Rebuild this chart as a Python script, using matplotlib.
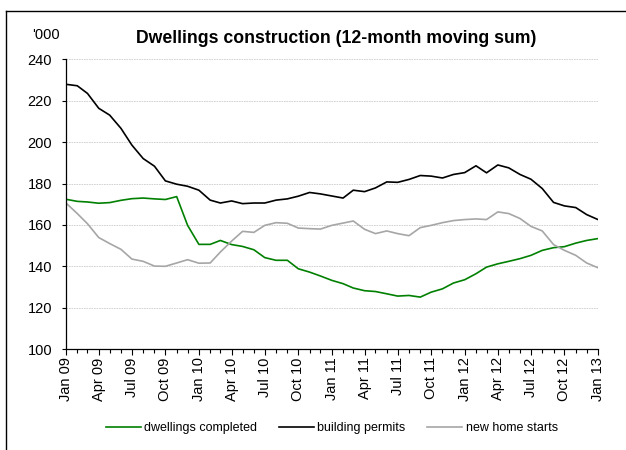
import matplotlib
matplotlib.use("Agg")
import matplotlib.pyplot as plt
import matplotlib.dates as mdates
import pandas as pd
from matplotlib.lines import Line2D

# monthly, Jan 2009 - Jan 2013 ('000)
months = pd.date_range("2009-01-01", "2013-01-01", freq="MS")

completed = [172.4, 171.4, 171.1, 170.5, 170.8, 171.9, 172.7, 173.0, 172.6, 172.3,
             173.7, 159.8, 150.6, 150.6, 152.5, 150.5, 149.6, 148.0, 144.2, 142.9,
             142.9, 138.8, 137.2, 135.3, 133.2, 131.6, 129.5, 128.2, 127.8, 126.7,
             125.6, 125.9, 125.1, 127.5, 129.1, 131.9, 133.5, 136.4, 139.6, 141.2,
             142.4, 143.7, 145.3, 147.7, 149.0, 149.5, 151.2, 152.5, 153.4]

permits = [228.0, 227.3, 223.6, 216.4, 213.1, 206.7, 198.6, 192.1, 188.4, 181.3,
           179.7, 178.7, 176.8, 172.0, 170.6, 171.6, 170.3, 170.6, 170.6, 172.0,
           172.6, 173.9, 175.7, 175.0, 174.0, 173.0, 176.8, 176.1, 177.9, 180.8,
           180.6, 182.0, 183.9, 183.6, 182.7, 184.4, 185.3, 188.6, 185.2, 189.0,
           187.6, 184.4, 182.1, 177.6, 170.9, 169.2, 168.4, 165.0, 162.6]

starts = [170.6, 165.5, 160.6, 153.9, 151.0, 148.2, 143.5, 142.4, 140.1, 140.0,
          141.6, 143.2, 141.5, 141.6, 146.9, 152.2, 156.9, 156.4, 159.8, 161.1,
          160.8, 158.5, 158.2, 158.0, 159.8, 160.9, 161.9, 157.9, 155.8, 157.1,
          155.8, 154.8, 158.7, 159.8, 161.1, 162.1, 162.6, 162.9, 162.6, 166.3,
          165.5, 163.1, 159.3, 157.1, 150.5, 147.7, 145.3, 141.6, 139.3]

plt.rcParams["font.family"] = ["Liberation Sans", "DejaVu Sans"]

fig = plt.figure(figsize=(6.26, 4.5), dpi=100)
ax = fig.add_axes([0.1054, 0.2244, 0.8498, 0.6434])

ax.plot(months, completed, color="#008000", lw=1.2, label="dwellings completed")
ax.plot(months, permits, color="black", lw=1.2, label="building permits")
ax.plot(months, starts, color="#a6a6a6", lw=1.2, label="new home starts")

ax.set_xlim(months[0], months[-1])
ax.set_ylim(100, 240)
ax.set_yticks(range(100, 241, 20))
ax.yaxis.grid(True, color="#cccccc", lw=0.6, ls=(0, (2, 1)))
ax.set_axisbelow(True)

ax.xaxis.set_major_locator(mdates.MonthLocator(bymonth=[1, 4, 7, 10]))
ax.xaxis.set_minor_locator(mdates.MonthLocator())
ax.xaxis.set_major_formatter(mdates.DateFormatter("%b %y"))
plt.setp(ax.get_xticklabels(), rotation=90)
ax.tick_params(axis="both", which="both", direction="out", labelsize=10.5,
               length=3, width=0.8, pad=2)
ax.tick_params(axis="x", which="major", length=4)
ax.tick_params(axis="y", pad=7)

for s in ["top", "right"]:
    ax.spines[s].set_visible(False)
for s in ["left", "bottom"]:
    ax.spines[s].set_linewidth(0.9)

fig.text(0.051, 0.922, "'000", fontsize=10.5, ha="left", va="center")
fig.text(0.537, 0.915, "Dwellings construction (12-month moving sum)",
         fontsize=12.7, fontweight="bold", ha="center", va="center")

fig.legend(loc="center", bbox_to_anchor=(0.53, 0.048), ncol=3, frameon=False,
           fontsize=9, handlelength=2.8, columnspacing=1.7, handletextpad=0.3)

# outer frame (top and left edges visible)
fig.add_artist(Line2D([0.0096, 1.0], [0.9756, 0.9756], color="black", lw=1.0,
                      transform=fig.transFigure))
fig.add_artist(Line2D([0.0096, 0.0096], [0.0, 0.9756], color="black", lw=1.0,
                      transform=fig.transFigure))

fig.savefig("out.png", dpi=100)
